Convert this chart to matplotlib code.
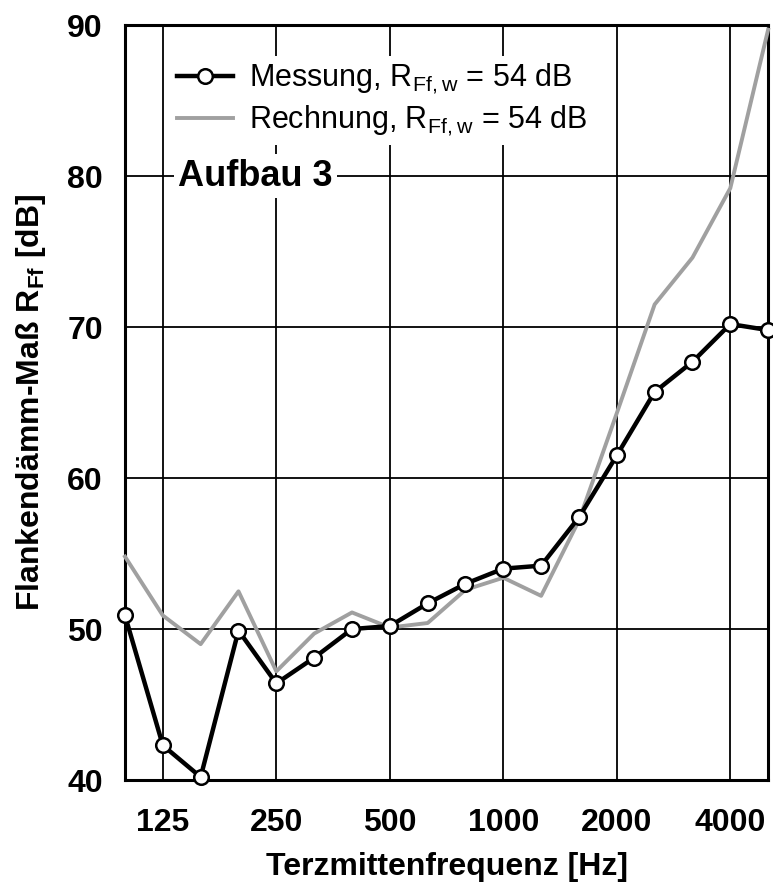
"""Flankendämm-Maß, Messung vs. Rechnung (Aufbau 3)."""
import matplotlib
matplotlib.use("Agg")
import matplotlib.pyplot as plt

plt.rcParams["font.family"] = ["Liberation Sans", "DejaVu Sans"]
plt.rcParams["mathtext.fontset"] = "custom"
plt.rcParams["mathtext.rm"] = "Liberation Sans"
plt.rcParams["mathtext.bf"] = "Liberation Sans:bold"

# third-octave bands 100 Hz .. 5000 Hz
freqs = [100, 125, 160, 200, 250, 315, 400, 500, 630, 800,
         1000, 1250, 1600, 2000, 2500, 3150, 4000, 5000]
messung = [50.9, 42.3, 40.2, 49.9, 46.4, 48.1, 50.0, 50.2, 51.7, 53.0,
           54.0, 54.2, 57.4, 61.5, 65.7, 67.7, 70.2, 69.8]
rechnung = [54.8, 50.9, 49.0, 52.5, 47.2, 49.7, 51.1, 50.1, 50.4, 52.6,
            53.4, 52.2, 57.2, 64.3, 71.5, 74.6, 79.2, 89.7]
tick_freqs = [125, 250, 500, 1000, 2000, 4000]
y_ticks = [40, 50, 60, 70, 80, 90]

idx = list(range(len(freqs)))
tick_idx = [freqs.index(f) for f in tick_freqs]

fig = plt.figure(figsize=(7.73, 8.84), dpi=100)
ax = fig.add_axes([0.1617, 0.1176, 0.832, 0.854])

ax.plot(idx, rechnung, color="#a0a0a0", lw=2.8, zorder=3, clip_on=False,
        label=r"Rechnung, R$_\mathrm{Ff,w}$ = 54 dB")
ax.plot(idx, messung, color="black", lw=3.2, marker="o", ms=10.5,
        mfc="white", mec="black", mew=1.8, zorder=4, clip_on=False,
        label=r"Messung, R$_\mathrm{Ff,w}$ = 54 dB")

ax.set_xlim(0, len(freqs) - 1)
ax.set_ylim(40, 90)
ax.set_xticks(tick_idx)
ax.set_xticklabels([str(f) for f in tick_freqs])
ax.set_yticks(y_ticks)
ax.tick_params(length=0)
ax.tick_params(axis="x", pad=20)
ax.tick_params(axis="y", pad=16)
for lab in ax.get_xticklabels() + ax.get_yticklabels():
    lab.set_fontweight("bold")
    lab.set_fontsize(23)
ax.grid(True, color="black", lw=1.3)
ax.set_axisbelow(True)
for s in ax.spines.values():
    s.set_linewidth(2.2)

ax.set_xlabel("Terzmittenfrequenz [Hz]", fontsize=23, fontweight="bold", labelpad=10)
ax.set_ylabel(r"Flankendämm-Maß R$_\mathbf{Ff}$ [dB]", fontsize=23,
              fontweight="bold", labelpad=14)

handles, labels = ax.get_legend_handles_labels()
leg = ax.legend(handles[::-1], labels[::-1], loc="upper left",
                bbox_to_anchor=(0.0715, 0.959), fontsize=22, frameon=True,
                facecolor="white", edgecolor="none", framealpha=1.0,
                fancybox=False, handlelength=1.84, handletextpad=0.5,
                labelspacing=0.25, borderpad=0.2, borderaxespad=0.0)
leg.set_zorder(5)

ax.text(1.4, 80, "Aufbau 3", fontsize=26, fontweight="bold", va="center",
        ha="left", zorder=5,
        bbox=dict(facecolor="white", edgecolor="none", pad=3))

fig.savefig("out.png", dpi=100)
plt.close(fig)
